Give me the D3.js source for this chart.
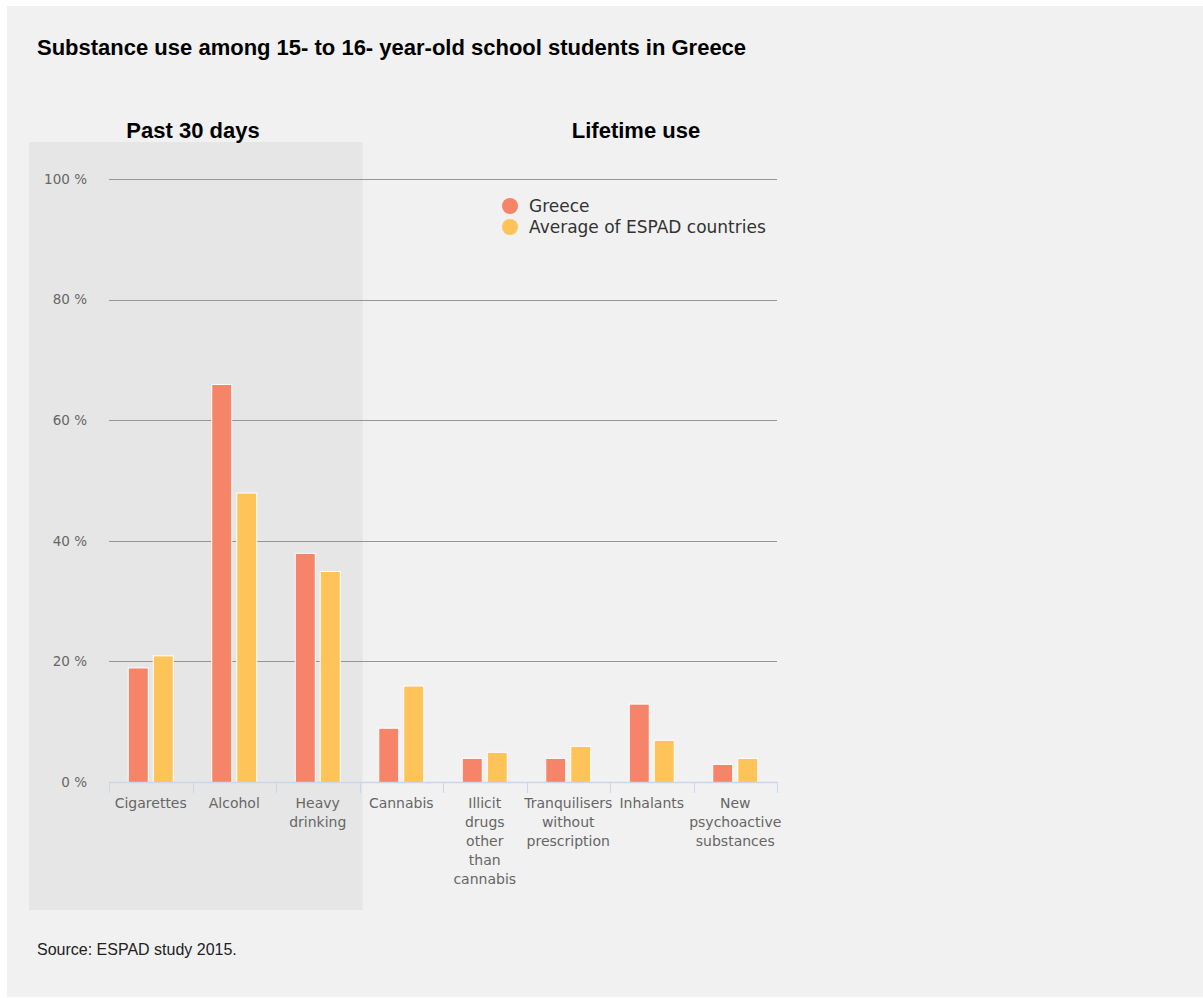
<!DOCTYPE html>
<html>
<head>
<meta charset="utf-8">
<script src="https://cdn.jsdelivr.net/npm/d3@7"></script>
<style>
  body { margin: 0; background: #fff; }
</style>
</head>
<body>
<div id="chart"></div>
<script>
// Substance use among 15- to 16- year-old school students in Greece (ESPAD 2015)

// Categories along the x axis
let categories = ['Cigarettes', 'Alcohol', 'Heavy drinking', 'Cannabis',
  'Illicit drugs other than cannabis', 'Tranquilisers without prescription',
  'Inhalants', 'New psychoactive substances'];

// Label lines as they wrap under each category
let categoryLines = [['Cigarettes'], ['Alcohol'], ['Heavy', 'drinking'], ['Cannabis'],
  ['Illicit', 'drugs', 'other', 'than', 'cannabis'], ['Tranquilisers', 'without', 'prescription'],
  ['Inhalants'], ['New', 'psychoactive', 'substances']];

// Series values (%)
let seriesNames = ['Greece', 'Average of ESPAD countries'];
let greeceValues = [19, 66, 38, 9, 4, 4, 13, 3];
let espadValues = [21, 48, 35, 16, 5, 6, 7, 4];

// Y tick values
let yTicks = [0, 20, 40, 60, 80, 100];

let colors = ['#f58468', '#fec459'];

let svgWidth = 1203;
let svgHeight = 998;

// Plot area
let margin = { top: 179, left: 109, right: 426, bottom: 216 };
let width = svgWidth - margin.left - margin.right;
let height = svgHeight - margin.top - margin.bottom;

let svg = d3.select('#chart')
  .append('svg')
  .attr('width', svgWidth)
  .attr('height', svgHeight);

// Panel background
svg.append('rect')
  .attr('x', 7)
  .attr('y', 6)
  .attr('width', svgWidth - 7)
  .attr('height', 991)
  .attr('fill', '#f1f1f1');

// Scales
let xScale = d3.scaleBand()
  .domain(categories)
  .range([0, width]);

let xSub = d3.scaleBand()
  .domain(seriesNames)
  .range([0, xScale.bandwidth()])
  .paddingInner(0.16)
  .paddingOuter(0.75);

let yScale = d3.scaleLinear()
  .domain([0, 100])
  .range([height, 0]);

// Shaded band for the "Past 30 days" group
svg.append('rect')
  .attr('x', 29)
  .attr('y', 142)
  .attr('width', margin.left + xScale('Cannabis') + 3 - 29)
  .attr('height', 910 - 142)
  .attr('fill', '#e6e6e6');

let chartGroup = svg.append('g')
  .attr('transform', `translate(${margin.left}, ${margin.top})`);

// Gridlines
chartGroup.append('g')
  .selectAll('line')
  .data(yTicks.filter(d => d > 0))
  .enter()
  .append('line')
  .attr('x1', 0)
  .attr('x2', width)
  .attr('y1', d => Math.round(yScale(d)) + 0.5)
  .attr('y2', d => Math.round(yScale(d)) + 0.5)
  .attr('stroke', '#969696')
  .attr('stroke-width', 1.2);

// Y axis labels
let yAxis = d3.axisLeft(yScale)
  .tickValues(yTicks)
  .tickFormat(d => d + ' %')
  .tickSize(0)
  .tickPadding(22);

let yAxisGroup = chartGroup.append('g')
  .call(yAxis);
yAxisGroup.select('.domain').remove();
yAxisGroup.selectAll('text')
  .attr('font-family', 'DejaVu Sans, sans-serif')
  .attr('font-size', '13.5px')
  .attr('fill', '#666');

// Bars
let barData = [];
categories.forEach((c, i) => {
  barData.push({ category: c, series: seriesNames[0], value: greeceValues[i], color: colors[0] });
  barData.push({ category: c, series: seriesNames[1], value: espadValues[i], color: colors[1] });
});

chartGroup.selectAll('.bar')
  .data(barData)
  .enter()
  .append('rect')
  .attr('class', 'bar')
  .attr('x', d => xScale(d.category) + xSub(d.series) + 0.5)
  .attr('y', d => yScale(d.value) + 0.5)
  .attr('width', xSub.bandwidth() - 1)
  .attr('height', d => height - yScale(d.value))
  .attr('fill', d => d.color)
  .attr('stroke', '#fff')
  .attr('stroke-width', 1);

// X axis line and ticks
let xAxisGroup = chartGroup.append('g')
  .attr('transform', `translate(0, ${height})`);

xAxisGroup.append('line')
  .attr('x1', 0)
  .attr('x2', width)
  .attr('y1', 0.5)
  .attr('y2', 0.5)
  .attr('stroke', '#ccd6eb')
  .attr('stroke-width', 1.5);

let tickPositions = categories.map(c => xScale(c)).concat([width]);
xAxisGroup.selectAll('.tick-line')
  .data(tickPositions)
  .enter()
  .append('line')
  .attr('class', 'tick-line')
  .attr('x1', d => Math.round(d) + 0.5)
  .attr('x2', d => Math.round(d) + 0.5)
  .attr('y1', 0)
  .attr('y2', 11)
  .attr('stroke', '#ccd6eb')
  .attr('stroke-width', 1);

// X labels, wrapped
let xLabels = xAxisGroup.selectAll('.x-label')
  .data(categories)
  .enter()
  .append('text')
  .attr('class', 'x-label')
  .attr('x', d => xScale(d) + xScale.bandwidth() / 2)
  .attr('y', 26)
  .attr('text-anchor', 'middle')
  .attr('font-family', 'DejaVu Sans, sans-serif')
  .attr('font-size', '14px')
  .attr('fill', '#666');

xLabels.each(function(d, i) {
  let t = d3.select(this);
  categoryLines[i].forEach((line, j) => {
    t.append('tspan')
      .attr('x', xScale(d) + xScale.bandwidth() / 2)
      .attr('dy', j === 0 ? 0 : 19)
      .text(line);
  });
});

// Legend
let legend = svg.append('g')
  .attr('transform', 'translate(510, 206)');

seriesNames.forEach((name, i) => {
  legend.append('circle')
    .attr('cx', 0)
    .attr('cy', i * 21)
    .attr('r', 8)
    .attr('fill', colors[i]);
  legend.append('text')
    .attr('x', 19)
    .attr('y', i * 21 + 6)
    .attr('font-family', 'DejaVu Sans, sans-serif')
    .attr('font-size', '17px')
    .attr('fill', '#333')
    .text(name);
});

// Title, group headers and source
svg.append('text')
  .attr('x', 37)
  .attr('y', 55)
  .attr('font-family', 'Liberation Sans, Arial, sans-serif')
  .attr('font-weight', 'bold')
  .attr('font-size', '22px')
  .attr('fill', '#000')
  .text('Substance use among 15- to 16- year-old school students in Greece');

svg.append('text')
  .attr('x', 193)
  .attr('y', 138)
  .attr('text-anchor', 'middle')
  .attr('font-family', 'Liberation Sans, Arial, sans-serif')
  .attr('font-weight', 'bold')
  .attr('font-size', '22px')
  .attr('fill', '#000')
  .text('Past 30 days');

svg.append('text')
  .attr('x', 636)
  .attr('y', 138)
  .attr('text-anchor', 'middle')
  .attr('font-family', 'Liberation Sans, Arial, sans-serif')
  .attr('font-weight', 'bold')
  .attr('font-size', '22px')
  .attr('fill', '#000')
  .text('Lifetime use');

svg.append('text')
  .attr('x', 37)
  .attr('y', 955)
  .attr('font-family', 'Liberation Sans, Arial, sans-serif')
  .attr('font-size', '16px')
  .attr('fill', '#222')
  .text('Source: ESPAD study 2015.');
</script>
</body>
</html>
